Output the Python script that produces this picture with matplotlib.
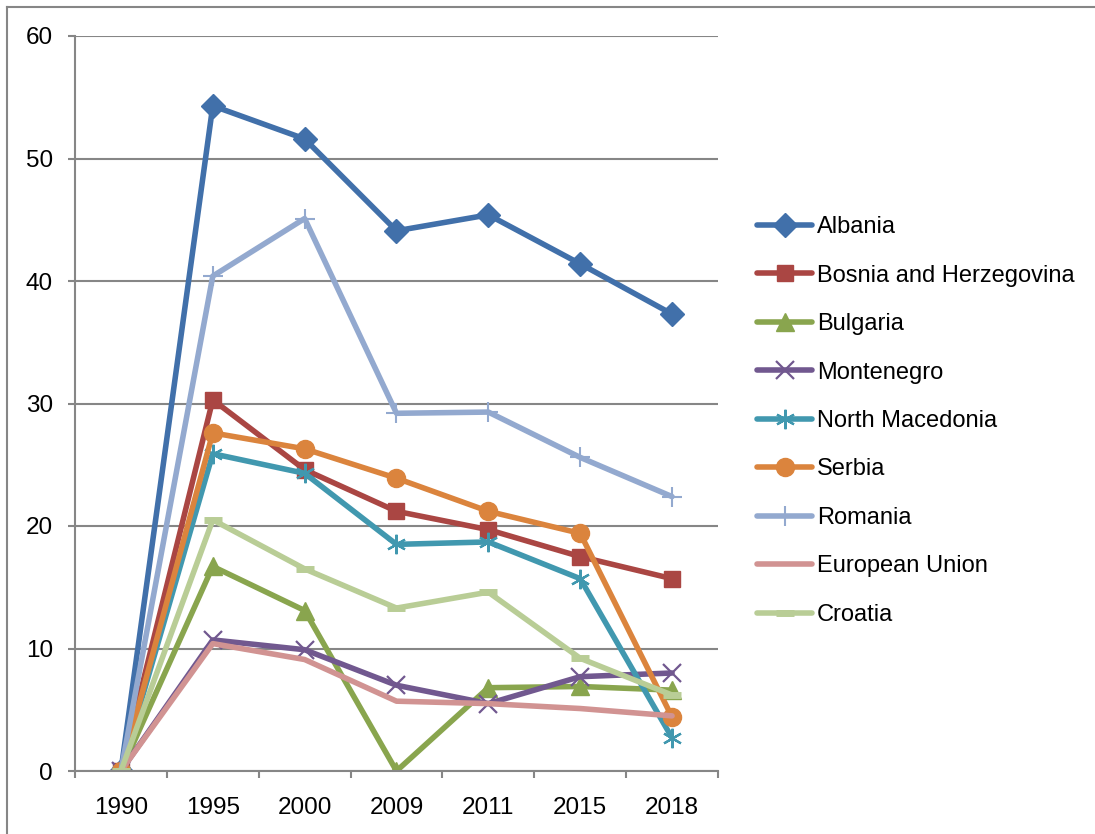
import matplotlib.pyplot as plt
from matplotlib.lines import Line2D

# データ
years = ['1990', '1995', '2000', '2009', '2011', '2015', '2018']

albania = [0, 54.3, 51.6, 44.1, 45.4, 41.4, 37.3]
bosnia = [0, 30.3, 24.6, 21.2, 19.7, 17.5, 15.7]
bulgaria = [0, 16.7, 13.1, 0, 6.8, 6.9, 6.6]
montenegro = [0, 10.7, 9.9, 7.0, 5.5, 7.7, 8.0]
north_macedonia = [0, 25.9, 24.3, 18.5, 18.7, 15.7, 2.7]
serbia = [0, 27.6, 26.3, 23.9, 21.2, 19.4, 4.4]
romania = [0, 40.4, 45.1, 29.2, 29.3, 25.6, 22.4]
eu = [0, 10.4, 9.1, 5.7, 5.5, 5.1, 4.5]
croatia = [0, 20.5, 16.5, 13.3, 14.6, 9.2, 6.2]

series = [
    ('Albania', albania, '#4170AA', 'D', 12, 1),
    ('Bosnia and Herzegovina', bosnia, '#AA4643', 's', 12, 1),
    ('Bulgaria', bulgaria, '#89A54E', '^', 13, 1),
    ('Montenegro', montenegro, '#71588F', 'x', 13, 1.6),
    ('North Macedonia', north_macedonia, '#4198AF', '*', 0, 0),
    ('Serbia', serbia, '#DB843D', 'o', 13, 1),
    ('Romania', romania, '#93A9CF', '+', 14, 1.5),
    ('European Union', eu, '#D19392', '', 0, 0),
    ('Croatia', croatia, '#B9CD96', '_', 13, 5),
]

plt.rcParams['font.family'] = ['Liberation Sans', 'DejaVu Sans']

fig = plt.figure(figsize=(10.95, 8.34), dpi=100)
ax = fig.add_axes([75 / 1095, 63 / 834, 643 / 1095, 735 / 834])

x = list(range(len(years)))
handles = []
for name, vals, col, mk, ms, mew in series:
    if name == 'North Macedonia':
        # アスタリスク型マーカー
        line, = ax.plot(x, vals, color=col, lw=4, marker=(6, 2, 0), ms=14,
                        mew=1.6, mec=col, mfc=col, label=name)
    elif mk in ('x', '+', '_'):
        line, = ax.plot(x, vals, color=col, lw=4, marker=mk, ms=ms,
                        mew=mew, mec=col, label=name)
    elif mk == '':
        line, = ax.plot(x, vals, color=col, lw=4, label=name)
    else:
        line, = ax.plot(x, vals, color=col, lw=4, marker=mk, ms=ms,
                        mec=col, mfc=col, label=name)
    line.set_solid_capstyle('round')
    line.set_solid_joinstyle('round')
    handles.append(line)

gray = '#868686'
ax.set_xlim(-0.5, 6.5)
ax.set_ylim(0, 60)
ax.set_yticks(range(0, 61, 10))
ax.set_xticks(x)
ax.set_xticklabels(years)
ax.set_xticks([i - 0.5 for i in range(8)], minor=True)
ax.grid(axis='y', color=gray, lw=1.5)
ax.set_axisbelow(True)
for s in ['top', 'right']:
    ax.spines[s].set_visible(False)
for s in ['left', 'bottom']:
    ax.spines[s].set_color(gray)
    ax.spines[s].set_linewidth(1.5)
ax.tick_params(axis='y', direction='out', length=5, width=1.5, color=gray,
               pad=11, labelsize=17.5)
ax.tick_params(axis='x', which='major', length=0, pad=19, labelsize=17.5)
ax.tick_params(axis='x', which='minor', direction='out', length=5, width=1.5,
               color=gray)

fig.legend(handles=handles, loc='center left',
           bbox_to_anchor=(757 / 1095, 1 - 421 / 834), frameon=False,
           fontsize=17, handlelength=2.35, handletextpad=0.2,
           labelspacing=1.12, borderpad=0, borderaxespad=0)

# 外枠(上と左のみ)
fig.add_artist(Line2D([7 / 1095, 1], [1 - 7 / 834, 1 - 7 / 834],
                      transform=fig.transFigure, color=gray, lw=1.5))
fig.add_artist(Line2D([7 / 1095, 7 / 1095], [0, 1 - 7 / 834],
                      transform=fig.transFigure, color=gray, lw=1.5))

fig.savefig('out.png', dpi=100)
